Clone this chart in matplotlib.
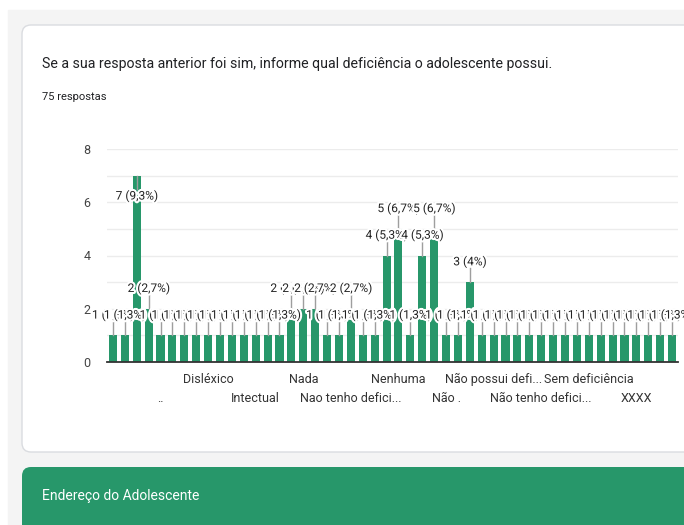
import matplotlib.pyplot as plt
import matplotlib.patheffects as pe
from matplotlib.patches import FancyBboxPatch, Rectangle

TITULO = 'Se a sua resposta anterior foi sim, informe qual deficiência o adolescente possui.'
SUBTITULO = '75 respostas'
PROXIMA_SECAO = 'Endereço do Adolescente'
TOTAL = 75

# quantidade de respostas por categoria (48 barras, da esquerda para a direita)
valores = [1, 1, 7, 2, 1, 1, 1, 1, 1, 1, 1, 1, 1, 1, 1, 2,
           2, 2, 1, 1, 2, 1, 1, 4, 5, 1, 4, 5, 1, 1, 3, 1,
           1, 1, 1, 1, 1, 1, 1, 1, 1, 1, 1, 1, 1, 1, 1, 1]

# rótulos do eixo x (so os que aparecem no grafico, o resto fica vazio)
categorias = [''] * len(valores)
categorias[4] = '..'
categorias[8] = 'Disléxico'
categorias[12] = 'Intectual'
categorias[16] = 'Nada'
categorias[20] = 'Nao tenho defici...'
categorias[24] = 'Nenhuma'
categorias[28] = 'Não .'
categorias[32] = 'Não possui defi...'
categorias[36] = 'Não tenho defici...'
categorias[40] = 'Sem deficiência'
categorias[44] = 'XXXX'

VERDE = '#27976a'
plt.rcParams['font.family'] = ['Roboto', 'DejaVu Sans']

fig = plt.figure(figsize=(6.84, 5.25), dpi=100)
fig.patch.set_facecolor('white')

# fundo da pagina em coordenadas de pixel
bg = fig.add_axes([0, 0, 1, 1], zorder=0)
bg.set_xlim(0, 684)
bg.set_ylim(525, 0)
bg.axis('off')
bg.add_patch(Rectangle((8, 10), 700, 600, color='#f4f4f4'))
bg.add_patch(FancyBboxPatch((22, 25), 700, 427, boxstyle='round,pad=0,rounding_size=9',
                            facecolor='white', edgecolor='#dadce0', linewidth=1))
bg.add_patch(FancyBboxPatch((22, 467), 700, 100, boxstyle='round,pad=0,rounding_size=9',
                            facecolor=VERDE, edgecolor='none'))
bg.text(42, 64, TITULO, fontsize=10.2, color='#202124', va='center', ha='left')
bg.text(42, 97, SUBTITULO, fontsize=8, color='#202124', va='center', ha='left')
bg.text(42, 496, PROXIMA_SECAO, fontsize=10, color='white', va='center', ha='left')

ax = fig.add_axes([107 / 684, 1 - 362 / 525, 571 / 684, 213 / 525], zorder=1)
ax.patch.set_alpha(0)
x = list(range(len(valores)))
ax.bar(x, valores, width=0.68, color=VERDE, zorder=2)

ax.set_xlim(-0.5, len(valores) - 0.5)
ax.set_ylim(0, 8)
ax.set_yticks([0, 2, 4, 6, 8])
ax.set_yticks(range(9), minor=True)
ax.grid(axis='y', which='both', color='#ececec', linewidth=1, zorder=0)
ax.tick_params(axis='y', which='both', length=0, labelsize=9, labelcolor='#444444', pad=12)

ax.set_xticks(x)
rotulos = []
for i, nome in enumerate(categorias):
    # rotulos alternam entre duas linhas
    if nome and (i // 4) % 2 == 1:
        rotulos.append('\n' + nome)
    else:
        rotulos.append(nome)
ax.set_xticklabels(rotulos, fontsize=9, color='#333333', linespacing=1.55)
ax.tick_params(axis='x', length=0, pad=8)

for s in ['top', 'right', 'left']:
    ax.spines[s].set_visible(False)
ax.spines['bottom'].set_color('#333333')
ax.spines['bottom'].set_linewidth(1.3)
ax.spines['bottom'].set_zorder(3)

halo = [pe.withStroke(linewidth=3, foreground='white')]
for i, v in enumerate(valores):
    pct = ('%.1f' % (100 * v / TOTAL)).replace('.', ',').replace(',0', '')
    txt = '%d (%s%%)' % (v, pct)
    if v >= 7:
        yl = v - 0.76
        ax.plot([i, i], [v, yl + 0.25], color='#9e9e9e', linewidth=1, zorder=4)
    else:
        yl = v + 0.77
        ax.plot([i, i], [v, yl - 0.25], color='#9e9e9e', linewidth=1, zorder=4)
    ax.text(i, yl, txt, ha='center', va='center', fontsize=8.6, color='#222222',
            path_effects=halo, zorder=5, clip_on=False)

fig.savefig('out.png', dpi=100)
